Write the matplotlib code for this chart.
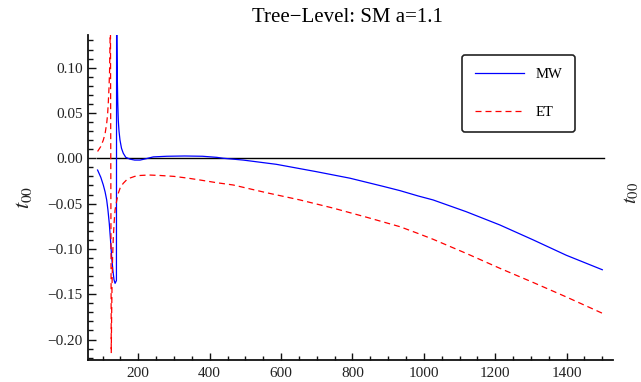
import matplotlib
matplotlib.use("Agg")
import matplotlib.pyplot as plt
from matplotlib.ticker import MultipleLocator, FuncFormatter

plt.rcParams['font.family'] = ['Liberation Serif', 'DejaVu Serif']
plt.rcParams['mathtext.fontset'] = 'stix'

# sqrt(s) [GeV] and t00 for the two schemes
mw_x = [86, 95, 102, 107, 111.5, 115, 118.8, 122, 125.5, 129, 132, 135, 138.8,
        139.5, 140.2, 141, 142.5, 144, 146, 148.8, 153, 158, 165, 177, 190, 205,
        222, 242, 280, 330, 380, 420, 438, 494, 587, 699, 793, 886, 933, 984,
        1026, 1119, 1213, 1306, 1399, 1500]
mw_y = [-0.013, -0.021, -0.0295, -0.037, -0.046, -0.057, -0.072, -0.089, -0.109,
        -0.124, -0.134, -0.138, -0.135,
        0.25, 0.13, 0.095, 0.062, 0.042, 0.030, 0.020, 0.011, 0.0055, 0.001, -0.001,
        -0.002, -0.002, -0.0005, 0.0015, 0.0022, 0.0025, 0.0022, 0.001, 0.0, -0.002,
        -0.0067, -0.0148, -0.022, -0.031, -0.0357, -0.0416, -0.046, -0.059, -0.0736,
        -0.090, -0.107, -0.123]

et_x = [86, 95, 102, 107, 111.5, 114, 116, 118, 119.5, 120.8, 122, 124.3,
        125.5, 126.5, 128, 130, 132.5, 135, 140, 144, 150, 158, 167, 177, 190,
        205, 230, 261, 300, 340, 373, 420, 466, 559, 653, 746, 839, 933, 984,
        1026, 1119, 1213, 1306, 1399, 1500]
et_y = [0.0075, 0.013, 0.020, 0.027, 0.0386, 0.048, 0.061, 0.078, 0.095, 0.125,
        0.16, -0.215,
        -0.17, -0.14, -0.11, -0.088, -0.070, -0.057, -0.046, -0.0386, -0.032,
        -0.0276, -0.024, -0.0218, -0.020, -0.019, -0.0185, -0.019, -0.020, -0.022,
        -0.024, -0.027, -0.0295, -0.038, -0.046, -0.055, -0.065, -0.0755, -0.083,
        -0.0894, -0.105, -0.1214, -0.137, -0.153, -0.171]

zero_x = [85, 1505]
zero_y = [0.0, 0.0]

x_range = (60, 1530)
y_range = (-0.2226, 0.136)


def fmt_y(v, pos):
    if abs(v) < 1e-9:
        v = 0.0
    return f'{v:.2f}'.replace('-', '\u2212')


fig = plt.figure(figsize=(6.41, 3.82), dpi=100)
ax = fig.add_axes([88.3 / 641, 22 / 382, (613 - 88.3) / 641, 325 / 382])

ax.plot(zero_x, zero_y, color='black', lw=1.0, zorder=2)
ax.plot(mw_x, mw_y, color='#0000ff', lw=0.9, label='MW', zorder=3)
ax.plot(et_x, et_y, color='#ff0000', lw=0.9, linestyle=(0, (4.8, 3.2)),
        label='ET', zorder=3)

ax.set_xlim(*x_range)
ax.set_ylim(*y_range)

for side in ('top', 'right'):
    ax.spines[side].set_visible(False)
for side in ('left', 'bottom'):
    ax.spines[side].set_linewidth(1.3)
    ax.spines[side].set_color('#111111')

ax.xaxis.set_major_locator(MultipleLocator(200))
ax.xaxis.set_minor_locator(MultipleLocator(50))
ax.yaxis.set_major_locator(MultipleLocator(0.05))
ax.yaxis.set_minor_locator(MultipleLocator(0.01))
ax.yaxis.set_major_formatter(FuncFormatter(fmt_y))
ax.tick_params(which='both', direction='in', top=False, right=False,
               width=1.0, color='#111111')
ax.tick_params(axis='y', which='major', length=6, labelsize=11, pad=4)
ax.tick_params(axis='y', which='minor', length=3.5)
ax.tick_params(axis='x', which='major', length=5, labelsize=11, pad=5)
ax.tick_params(axis='x', which='minor', length=3)
for lab in ax.get_xticklabels() + ax.get_yticklabels():
    lab.set_color('#222222')

leg = ax.legend(loc='upper left', bbox_to_anchor=(0.7116, 0.938), fontsize=10.5,
                frameon=True, fancybox=True, handlelength=3.4, labelspacing=1.65,
                borderpad=0.9, handletextpad=0.75, borderaxespad=0.0)
frame = leg.get_frame()
frame.set_edgecolor('#222222')
frame.set_linewidth(1.2)
frame.set_alpha(1.0)

fig.text(347 / 641, 1 - 17 / 382, 'Tree\u2212Level: SM a=1.1', ha='center',
         va='center', fontsize=15, color='black')
fig.text(24 / 641, 1 - 197 / 382, r'$t_{00}$', rotation=90, ha='center',
         va='center', fontsize=16, color='#222222')
fig.text(632 / 641, 1 - 193 / 382, r'$t_{00}$', rotation=90, ha='center',
         va='center', fontsize=15, color='#222222')

fig.savefig('out.png', dpi=100)
